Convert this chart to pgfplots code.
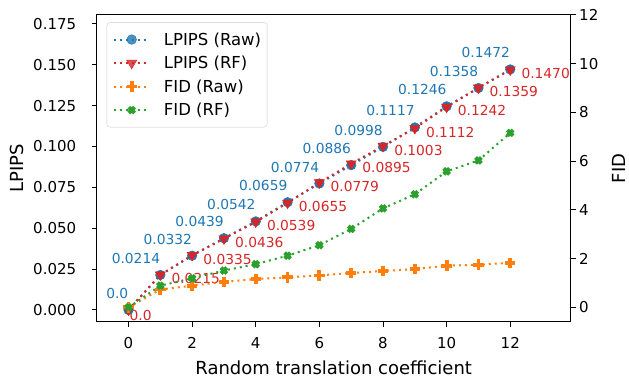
\documentclass[border=0pt]{standalone}
\usepackage{fontspec}
\setmainfont{DejaVu Sans}
\usepackage{pgfplots}
\pgfplotsset{compat=1.18}
\definecolor{tblue}{HTML}{1F77B4}
\definecolor{tred}{HTML}{D62728}
\definecolor{torange}{HTML}{FF7F0E}
\definecolor{tgreen}{HTML}{2CA02C}
\newcommand{\tickfont}{\fontsize{15bp}{17bp}\selectfont}
\newcommand{\labfont}{\fontsize{18bp}{21bp}\selectfont}
\newcommand{\legfont}{\fontsize{16.5bp}{19bp}\selectfont}
\newcommand{\annfont}{\fontsize{13.8bp}{16bp}\selectfont}
\pgfplotsset{
  dotl/.style={line width=2bp, dash pattern=on 2bp off 4bp},
  sraw/.style={tblue, dotl, mark=*, mark size=4.8bp, mark options={solid, fill=tblue, draw=tblue, line width=0.5bp}},
  srf/.style={tred, dotl, mark=triangle*, mark size=5.8bp, mark options={solid, rotate=180, fill=tred, draw=tred, line width=0.5bp}},
  sfraw/.style={torange, dotl, mark=+, mark size=5.2bp, mark options={solid, line width=3.8bp}},
  sfrf/.style={tgreen, dotl, mark=x, mark size=4.1bp, mark options={solid, line width=4bp}},
  common/.style={
    scale only axis, width=474bp, height=306.7bp,
    xmin=-1, xmax=13.9,
    tick align=outside, major tick length=5bp,
    every tick/.style={black, line width=1bp},
    axis line style={line width=1bp, black},
    tick label style={font=\tickfont},
    /pgf/number format/assume math mode=true,
    clip=false,
  },
}
\begin{document}
\begin{tikzpicture}
\useasboundingbox (-96.7bp,-64.3bp) rectangle (532.3bp,321.7bp);
\begin{axis}[common,
  ymin=-0.0072, ymax=0.1805,
  xtick={0,2,4,6,8,10,12},
  ytick={0,0.025,0.05,0.075,0.1,0.125,0.15,0.175},
  xtick pos=bottom, ytick pos=left,
  xticklabel style={yshift=-7bp},
  yticklabel style={xshift=-12bp, /pgf/number format/.cd, fixed, fixed zerofill, precision=3},
  xlabel={Random translation coefficient},
  ylabel={LPIPS},
  xlabel style={font=\labfont, at={(axis description cs:0.5,0)}, anchor=center, inner sep=0pt, yshift=-46bp},
  ylabel style={font=\labfont, at={(axis description cs:0,0.5)}, anchor=center, inner sep=0pt, yshift=79.5bp},
]
\addplot[sraw, nodes near coords, point meta=explicit symbolic,
  nodes near coords align={anchor=south east},
  every node near coord/.append style={anchor=south east, inner sep=0pt, yshift=11bp, font=\annfont, text=tblue}]
coordinates {
(0,0)[0.0] (1,0.0214)[0.0214] (2,0.0332)[0.0332] (3,0.0439)[0.0439] (4,0.0542)[0.0542]
(5,0.0659)[0.0659] (6,0.0774)[0.0774] (7,0.0886)[0.0886] (8,0.0998)[0.0998]
(9,0.1117)[0.1117] (10,0.1246)[0.1246] (11,0.1358)[0.1358] (12,0.1472)[0.1472]
};
\addplot[srf, nodes near coords, point meta=explicit symbolic,
  nodes near coords align={anchor=north west},
  every node near coord/.append style={anchor=north west, inner sep=0pt, xshift=11bp, yshift=1.5bp, font=\annfont, text=tred}]
coordinates {
(0,0)[] (1,0.0215)[0.0215] (2,0.0335)[0.0335] (3,0.0436)[0.0436] (4,0.0539)[0.0539]
(5,0.0655)[0.0655] (6,0.0779)[0.0779] (7,0.0895)[0.0895] (8,0.1003)[0.1003]
(9,0.1112)[0.1112] (10,0.1242)[0.1242] (11,0.1359)[0.1359] (12,0.1470)[0.1470]
};
\node[anchor=north west, inner sep=0pt, font=\annfont, text=tred, xshift=1bp] at (axis cs:0,0) {0.0};
\end{axis}
\begin{axis}[common,
  ymin=-0.59, ymax=12,
  axis x line=none, axis y line*=right,
  ytick={0,2,4,6,8,10,12},
  ylabel={FID},
  ylabel style={font=\labfont, at={(axis description cs:1,0.5)}, anchor=center, inner sep=0pt, yshift=-48.5bp},
  legend style={at={(axis description cs:0.0211,0.976)}, anchor=north west,
    draw=black!20, rounded corners=3bp, fill=white, fill opacity=0.8, text opacity=1,
    font=\legfont, inner xsep=6bp, inner ysep=10bp, row sep=9.5bp,
    nodes={inner sep=0pt, font=\legfont}, column sep=0bp},
  legend cell align=left,
  legend image code/.code={\draw[mark repeat=2, mark phase=2] plot coordinates {(0bp,0bp) (17.8bp,0bp) (35.6bp,0bp)};},
  legend style={/tikz/every odd column/.append style={column sep=13.4bp}},
]
\addlegendimage{sraw}
\addlegendentry{LPIPS (Raw)}
\addlegendimage{srf}
\addlegendentry{LPIPS (RF)}
\addplot[sfraw] coordinates {
(0,0) (1,0.73) (2,0.89) (3,1.05) (4,1.16) (5,1.23) (6,1.31) (7,1.41) (8,1.49) (9,1.57) (10,1.71) (11,1.75) (12,1.83)
};
\addlegendentry{FID (Raw)}
\addplot[sfrf] coordinates {
(0,0) (1,0.89) (2,1.19) (3,1.51) (4,1.77) (5,2.12) (6,2.55) (7,3.22) (8,4.06) (9,4.64) (10,5.58) (11,6.03) (12,7.16)
};
\addlegendentry{FID (RF)}
\end{axis}
\end{tikzpicture}
\end{document}
